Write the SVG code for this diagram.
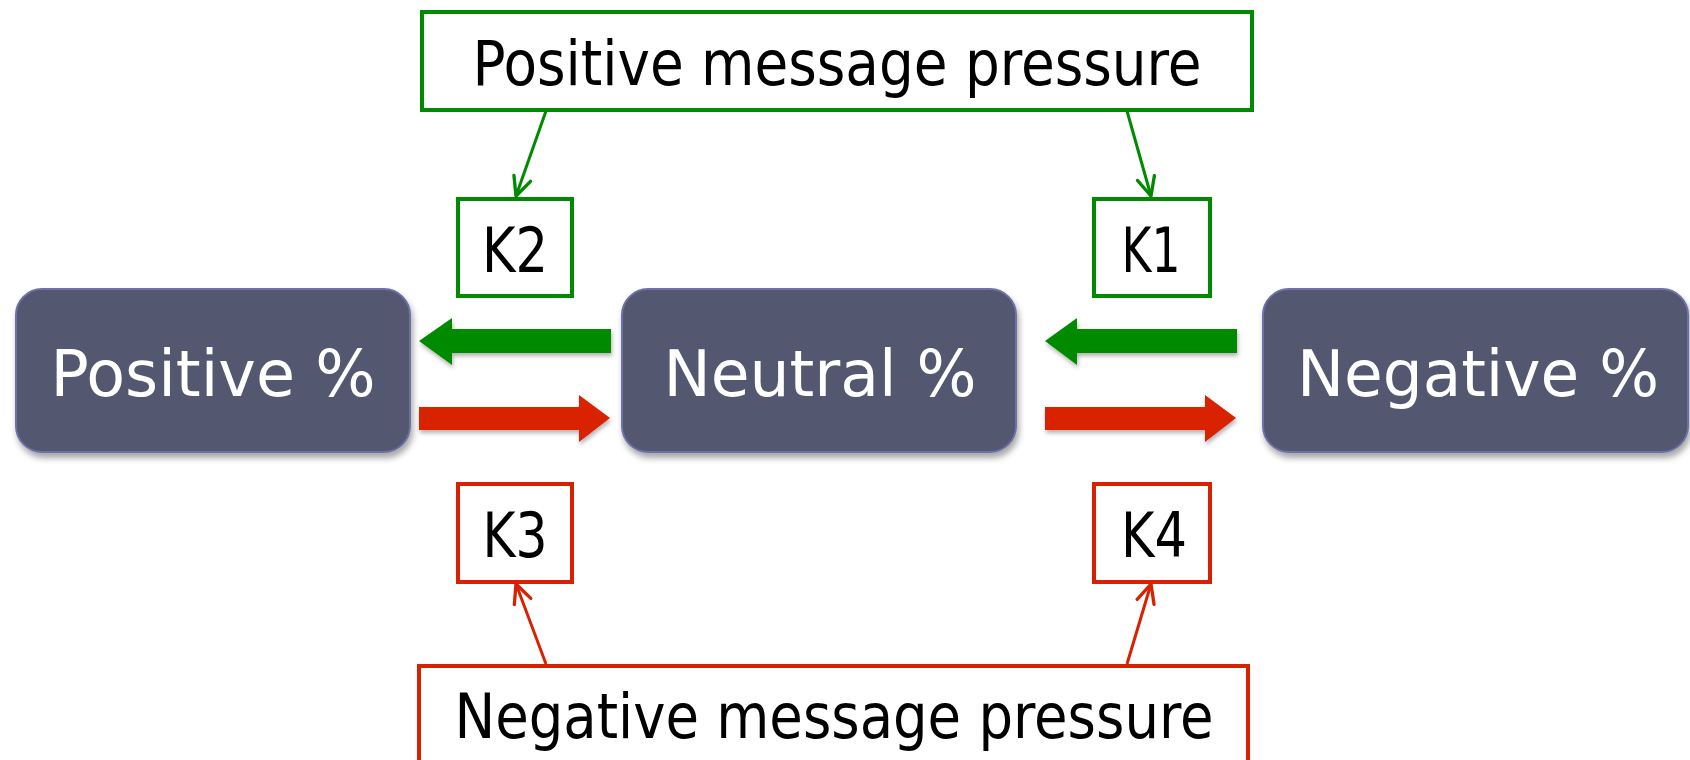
<svg xmlns="http://www.w3.org/2000/svg" width="1690" height="760" viewBox="0 0 1690 760">
<defs>
<style>
.lbl{font-family:"DejaVu Sans","Liberation Sans",sans-serif;font-stretch:condensed;fill:#000;}
.nt{font-family:"DejaVu Sans","Liberation Sans",sans-serif;font-stretch:condensed;fill:#fff;font-size:64px;}
.node{fill:#525870;stroke:#6e70a8;stroke-width:2;}
.gbox{fill:#fff;stroke:#008a00;stroke-width:4;}
.rbox{fill:#fff;stroke:#d92000;stroke-width:4;}
.gl{stroke:#008a00;stroke-width:3;fill:none;}
.rl{stroke:#d92000;stroke-width:3;fill:none;}
</style>
<filter id="sh" x="-10%" y="-10%" width="125%" height="135%">
<feDropShadow dx="2" dy="5" stdDeviation="3" flood-color="#000" flood-opacity="0.35"/>
</filter>
<filter id="sh2" x="-10%" y="-20%" width="125%" height="160%">
<feDropShadow dx="1" dy="3" stdDeviation="2" flood-color="#000" flood-opacity="0.3"/>
</filter>
<marker id="ga" viewBox="0 0 20 20" refX="19" refY="10" markerWidth="22" markerHeight="22" markerUnits="userSpaceOnUse" orient="auto">
<path d="M2,2 L19,10 L2,18" fill="none" stroke="#008a00" stroke-width="3" stroke-linecap="round" stroke-linejoin="round"/>
</marker>
<marker id="ra" viewBox="0 0 20 20" refX="19" refY="10" markerWidth="22" markerHeight="22" markerUnits="userSpaceOnUse" orient="auto">
<path d="M2,2 L19,10 L2,18" fill="none" stroke="#d92000" stroke-width="3" stroke-linecap="round" stroke-linejoin="round"/>
</marker>
</defs>
<rect width="1690" height="760" fill="#fff"/>

<g id="connectors">
<line class="gl" x1="546" y1="111" x2="516" y2="196" marker-end="url(#ga)"/>
<line class="gl" x1="1127" y1="111" x2="1151" y2="196" marker-end="url(#ga)"/>
<line class="rl" x1="546" y1="664" x2="516" y2="584" marker-end="url(#ra)"/>
<line class="rl" x1="1127" y1="664" x2="1151" y2="584" marker-end="url(#ra)"/>
<polygon filter="url(#sh2)" fill="#008a00" points="419,341 452,318 452,329 611,329 611,353 452,353 452,365"/>
<polygon filter="url(#sh2)" fill="#d92000" points="419,407 579,407 579,395 610,418 579,442 579,430 419,430"/>
<polygon filter="url(#sh2)" fill="#008a00" points="1045,341 1077,318 1077,329 1237,329 1237,353 1077,353 1077,365"/>
<polygon filter="url(#sh2)" fill="#d92000" points="1045,407 1205,407 1205,395 1236,418 1205,442 1205,430 1045,430"/>
</g>

<g id="pos-pressure">
<rect class="gbox" x="422" y="12" width="830" height="98"/>
<text class="lbl" x="837" y="85" font-size="62" text-anchor="middle" textLength="729" lengthAdjust="spacingAndGlyphs">Positive message pressure</text>
</g>
<g id="k2">
<rect class="gbox" x="458" y="199" width="114" height="97"/>
<text class="lbl" x="515" y="272" font-size="62" text-anchor="middle" textLength="66" lengthAdjust="spacingAndGlyphs">K2</text>
</g>
<g id="k1">
<rect class="gbox" x="1094" y="199" width="116" height="97"/>
<text class="lbl" x="1151" y="272" font-size="62" text-anchor="middle" textLength="59" lengthAdjust="spacingAndGlyphs">K1</text>
</g>
<g id="positive" filter="url(#sh)">
<rect class="node" x="16" y="289" width="394" height="163" rx="26"/>
<text class="nt" x="213" y="396" text-anchor="middle" textLength="325" lengthAdjust="spacingAndGlyphs">Positive %</text>
</g>
<g id="neutral" filter="url(#sh)">
<rect class="node" x="622" y="289" width="394" height="163" rx="26"/>
<text class="nt" x="820" y="396" text-anchor="middle" textLength="313" lengthAdjust="spacingAndGlyphs">Neutral %</text>
</g>
<g id="negative" filter="url(#sh)">
<rect class="node" x="1263" y="289" width="425" height="163" rx="26"/>
<text class="nt" x="1478" y="396" text-anchor="middle" textLength="362" lengthAdjust="spacingAndGlyphs">Negative %</text>
</g>
<g id="k3">
<rect class="rbox" x="458" y="484" width="114" height="98"/>
<text class="lbl" x="515" y="557" font-size="62" text-anchor="middle" textLength="65" lengthAdjust="spacingAndGlyphs">K3</text>
</g>
<g id="k4">
<rect class="rbox" x="1094" y="484" width="116" height="98"/>
<text class="lbl" x="1154" y="557" font-size="62" text-anchor="middle" textLength="66" lengthAdjust="spacingAndGlyphs">K4</text>
</g>
<g id="neg-pressure">
<rect class="rbox" x="419" y="666" width="829" height="110"/>
<text class="lbl" x="834" y="738" font-size="62" text-anchor="middle" textLength="759" lengthAdjust="spacingAndGlyphs">Negative message pressure</text>
</g>
</svg>
